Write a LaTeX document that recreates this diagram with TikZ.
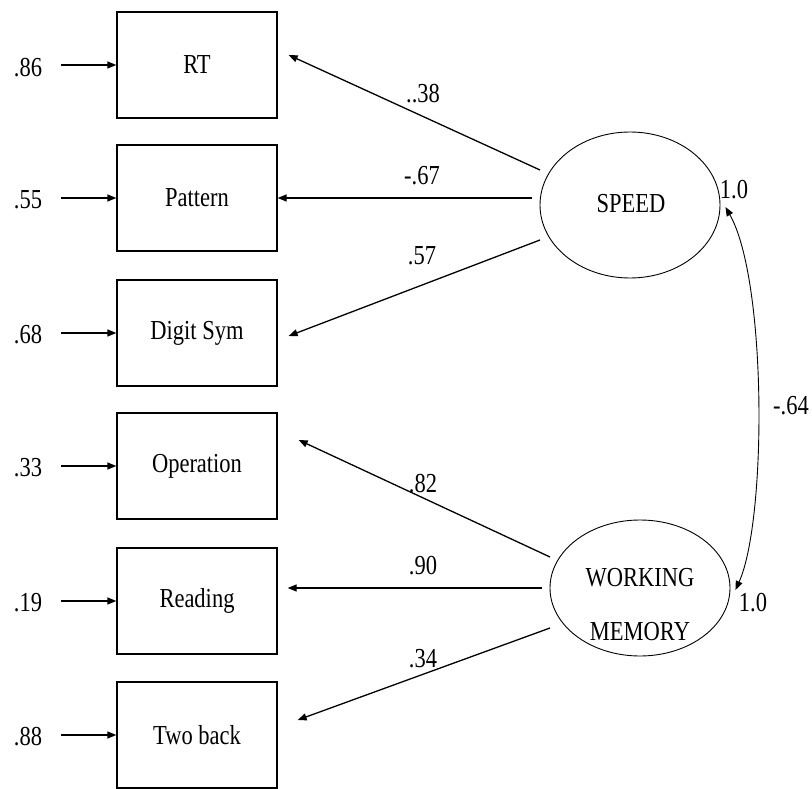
\documentclass[tikz,border=0pt]{standalone}
\usepackage{fontspec}
\usepackage{graphicx}
\setmainfont{Liberation Serif}
\usetikzlibrary{arrows.meta,calc,shapes.geometric}
\newcommand{\vs}[1]{\scalebox{1}[1.22]{#1}}
\begin{document}
\begin{tikzpicture}[x=1pt,y=-1pt,
  txt/.style={font=\fontsize{22.5}{25}\selectfont, inner sep=0pt},
  obs/.style={draw, line width=1.3pt, minimum width=160pt, minimum height=106pt, inner sep=0pt, font=\fontsize{22.5}{25}\selectfont},
  lat/.style={draw, ellipse, line width=0.9pt, inner sep=0pt},
  arr/.style={line width=1.3pt, -{Triangle[length=9pt,width=7pt]}},
  carr/.style={line width=0.9pt, {Triangle[length=9pt,width=7pt]}-{Triangle[length=9pt,width=7pt]}}]
\useasboundingbox (0,0) rectangle (812,789);
% observed variables
\node[obs] (rt) at (197,65) {\vs{RT}};
\node[obs] (pat) at (197,198) {\vs{Pattern}};
\node[obs] (dig) at (197,333) {\vs{Digit Sym}};
\node[obs] (op) at (197,466) {\vs{Operation}};
\node[obs] (rd) at (197,601) {\vs{Reading}};
\node[obs] (tb) at (197,735) {\vs{Two back}};
% error terms
\node[txt] (ert) at (28,68) {\vs{.86}};
\node[txt] (epat) at (28,200) {\vs{.55}};
\node[txt] (edig) at (28,335) {\vs{.68}};
\node[txt] (eop) at (28,468) {\vs{.33}};
\node[txt] (erd) at (28,603) {\vs{.19}};
\node[txt] (etb) at (28,737) {\vs{.88}};
\foreach \e/\b in {ert/rt,epat/pat,edig/dig,eop/op,erd/rd,etb/tb}{
  \draw[arr] ($(\b.west -| \e.east)+(19,0)$) -- (\b.west);
}
% latent variables
\node[lat, minimum width=180pt, minimum height=146pt] (speed) at (630,205) {};
\node[txt] (speedt) at (631,204) {\vs{SPEED}};
\node[lat, minimum width=180pt, minimum height=136pt] (wm) at (640,588) {};
\node[txt, align=center] (wmt) at (640,605) {\vs{WORKING}\\[29pt]\vs{MEMORY}};
% loadings
\draw[arr] ($(speed.center)+(-90,-35)$) -- ($(rt.east)+(11,-10)$);
\draw[arr] ($(speed.center)+(-98,-7)$) -- (pat.east);
\draw[arr] ($(speed.center)+(-90,35)$) -- ($(dig.east)+(11,3)$);
\draw[arr] ($(wm.center)+(-90,-31)$) -- ($(op.east)+(21,-26)$);
\draw[arr] ($(wm.center)+(-98,0)$) -- ($(rd.east)+(10,-13)$);
\draw[arr] ($(wm.center)+(-90,40)$) -- ($(tb.east)+(20,-15)$);
\node[txt] (l1) at (423,94) {\vs{..38}};
\node[txt] (l2) at (422,176) {\vs{-.67}};
\node[txt] (l3) at (422,256) {\vs{.57}};
\node[txt] (l4) at (423,484) {\vs{.82}};
\node[txt] (l5) at (423,566) {\vs{.90}};
\node[txt] (l6) at (423,659) {\vs{.34}};
% correlation
\draw[carr] ($(wm.east)+(5,2)$) .. controls (767,520) and (767,280) .. ($(speed.east)+(5,2)$);
\node[txt] (v1) at (734,190) {\vs{1.0}};
\node[txt] (v2) at (753,603) {\vs{1.0}};
\node[txt] (cor) at (791,406) {\vs{-.64}};
\end{tikzpicture}
\end{document}
